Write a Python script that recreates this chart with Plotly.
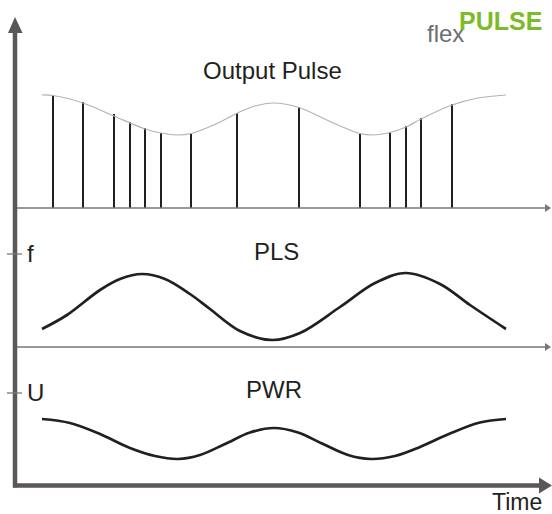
import plotly.graph_objects as go

W, H = 552, 514

# ---- data (time in arbitrary units along the time axis) ----
pulse_t = [53, 83, 114, 130, 145, 161, 191, 237, 299, 360, 390, 406, 421, 452]
pulse_amp = [113, 106, 94, 86, 80, 75, 74, 95, 101, 74, 76, 82, 90, 104]

env_t = [42, 53, 83, 114, 145, 161, 177, 191, 217, 237, 255, 274, 299, 329, 360, 373, 390, 406, 421, 452, 478, 506]
env_amp = [113, 112.5, 105, 92, 79, 75, 73, 74.5, 84.5, 94.8, 102, 105, 100.5, 87, 74.5, 73, 75.5, 81, 89, 103, 110, 113]

pls_t = [42, 67, 100, 120, 142, 165, 190, 210, 240, 272, 300, 340, 375, 406, 440, 470, 506]
pls_f = [18, 32, 57, 68, 73, 68, 53, 38, 16, 7, 14, 40, 64, 74, 63, 42, 18]

pwr_t = [42, 70, 100, 130, 155, 178, 200, 225, 250, 274, 298, 322, 348, 371, 395, 420, 450, 480, 506]
pwr_u = [66, 62, 51, 37, 29, 26, 30, 41, 52.5, 57, 52.5, 41.5, 30, 26, 29, 38, 51.5, 62.5, 66]

titles = ["Output Pulse", "PLS", "PWR"]
axis_labels = ["f", "U"]
time_label = "Time"

# ---- layout helpers (pixel -> paper) ----
def px(x):
    return x / W

def py(y):
    return 1 - y / H

INK = "#231f20"
AXIS = "#5b5657"
THIN = "#777777"
FONT = "Liberation Sans, Arial, sans-serif"

fig = go.Figure()

fig.add_trace(go.Scatter(x=env_t, y=env_amp, mode="lines", line=dict(color="#b3b3b3", width=1.2, shape="spline", smoothing=1.0),
                         xaxis="x", yaxis="y", hoverinfo="skip"))
fig.add_trace(go.Bar(x=pulse_t, y=pulse_amp, width=2.9, marker=dict(color=INK, line=dict(width=0)),
                     xaxis="x", yaxis="y"))
fig.add_trace(go.Scatter(x=pls_t, y=pls_f, mode="lines", line=dict(color=INK, width=2.7, shape="spline", smoothing=1.0),
                         xaxis="x", yaxis="y2"))
fig.add_trace(go.Scatter(x=pwr_t, y=pwr_u, mode="lines", line=dict(color=INK, width=2.7, shape="spline", smoothing=1.0),
                         xaxis="x", yaxis="y3"))

shapes = []
# thin baselines with small arrowheads
for yb in (208, 347):
    shapes.append(dict(type="line", xref="paper", yref="paper", x0=px(17), x1=px(546), y0=py(yb), y1=py(yb),
                       line=dict(color=THIN, width=1.6)))
    shapes.append(dict(type="path", xref="paper", yref="paper",
                       path=f"M {px(545)} {py(yb-4)} L {px(551)} {py(yb)} L {px(545)} {py(yb+4)} Z",
                       fillcolor=THIN, line=dict(width=0)))
# vertical main axis
shapes.append(dict(type="line", xref="paper", yref="paper", x0=px(15), x1=px(15), y0=py(30), y1=py(487.5),
                   line=dict(color=AXIS, width=4.5)))
shapes.append(dict(type="path", xref="paper", yref="paper",
                   path=f"M {px(8)} {py(33)} L {px(15)} {py(17)} L {px(22.5)} {py(33)} Z",
                   fillcolor=AXIS, line=dict(width=0)))
# horizontal main axis
shapes.append(dict(type="line", xref="paper", yref="paper", x0=px(13), x1=px(541), y0=py(485.5), y1=py(485.5),
                   line=dict(color=AXIS, width=4.5)))
shapes.append(dict(type="path", xref="paper", yref="paper",
                   path=f"M {px(539)} {py(477.5)} L {px(552)} {py(485.5)} L {px(539)} {py(493.5)} Z",
                   fillcolor=AXIS, line=dict(width=0)))
# level ticks for f and U
for yt in (254, 393):
    shapes.append(dict(type="line", xref="paper", yref="paper", x0=px(7), x1=px(22), y0=py(yt), y1=py(yt),
                       line=dict(color=THIN, width=1.3)))

ann = []
def text(x, y, s, size, color=INK, bold=False, xanchor="center"):
    ann.append(dict(x=px(x), y=py(y), xref="paper", yref="paper", text=(f"<b>{s}</b>" if bold else s),
                    showarrow=False, xanchor=xanchor, yanchor="middle",
                    font=dict(family=FONT, size=size, color=color)))

text(272, 71, titles[0], 24)
text(276, 251, titles[1], 24)
text(274, 389, titles[2], 24)
text(25, 253, axis_labels[0], 24, xanchor="left")
text(25, 392, axis_labels[1], 24, xanchor="left")
text(517, 502, time_label, 23)
text(445, 33, "flex", 24, color="#6d6e70")
text(500, 21, "PULSE", 25, color="#7dbb2a", bold=True)

fig.update_layout(
    width=W, height=H, autosize=False,
    margin=dict(l=0, r=0, t=0, b=0),
    paper_bgcolor="white", plot_bgcolor="white",
    showlegend=False, bargap=0,
    xaxis=dict(range=[0, W], visible=False, domain=[0, 1], fixedrange=True),
    yaxis=dict(range=[0, 208], domain=[py(208), 1], visible=False, fixedrange=True),
    yaxis2=dict(range=[0, 139], domain=[py(347), py(208)], visible=False, fixedrange=True),
    yaxis3=dict(range=[0, 138], domain=[py(485), py(347)], visible=False, fixedrange=True),
    shapes=shapes, annotations=ann,
)

fig.write_html("out.html", config={"displayModeBar": False},
               post_script="document.body.style.margin='0';")
